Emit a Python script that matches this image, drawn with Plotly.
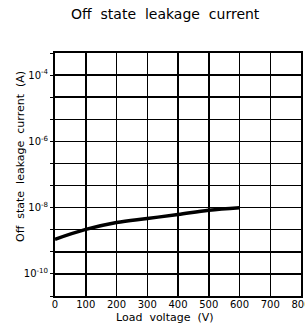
import plotly.graph_objects as go

# Data
load_voltage = [0, 100, 200, 300, 400, 500, 600]
leakage_current = [1.11e-9, 2.2e-9, 3.56e-9, 4.7e-9, 6.2e-9, 8.4e-9, 1.0e-8]

x_ticks = [0, 100, 200, 300, 400, 500, 600, 700, 800]
y_grid_exponents = [-10 - 2/3 + k * 2/3 for k in range(12)]
y_label_exponents = [-4, -6, -8, -10]

y_tickvals = [10 ** e for e in y_grid_exponents]
y_ticktext = []
for e in y_grid_exponents:
    r = round(e)
    if abs(e - r) < 1e-6 and r in y_label_exponents:
        y_ticktext.append("10<sup>%d</sup>" % r)
    else:
        y_ticktext.append("")

FONT = "DejaVu Sans"
NB = "\u00a0"

W, H = 305, 326
ml, mr, mt, mb = 55, 4, 53, 30
pw, ph = W - ml - mr, H - mt - mb


def px_to_paper(px, py):
    return (px - ml) / pw, (H - mb - py) / ph


fig = go.Figure()
fig.add_trace(go.Scatter(
    x=load_voltage, y=leakage_current, mode="lines",
    line=dict(color="black", width=3.5, shape="spline"),
    showlegend=False, hoverinfo="skip",
))

ann_specs = [
    (NB.join(["Off", "", "state", "", "leakage", "", "current"]), 165, 14, 14, 0),
    (NB.join(["Load", "", "voltage", "", "(V)"]), 165, 317, 11, 0),
    (NB.join(["Off", "", "state", "", "leakage", "", "current", "", "(A)"]), 20, 157, 11, -90),
]
annotations = []
for text, px, py, size, ang in ann_specs:
    ax, ay = px_to_paper(px, py)
    annotations.append(dict(text=text, x=ax, y=ay, xref="paper", yref="paper",
                            xanchor="center", yanchor="middle", showarrow=False,
                            textangle=ang, font=dict(size=size, family=FONT)))

fig.update_layout(
    template="none",
    width=W, height=H,
    margin=dict(l=ml, r=mr, t=mt, b=mb),
    paper_bgcolor="white", plot_bgcolor="white",
    font=dict(family=FONT, color="black", size=11),
    xaxis=dict(
        range=[0, 800], tickvals=x_ticks, ticktext=[str(v) for v in x_ticks],
        showgrid=True, gridcolor="black", gridwidth=1.5,
        showline=True, linecolor="black", linewidth=2, mirror=True,
        ticks="", zeroline=False, ticklabeloverflow="allow", automargin=False,
        ticklabelstandoff=-2,
        tickfont=dict(size=10, family=FONT),
    ),
    yaxis=dict(
        type="log", range=[-10 - 2/3, -3 - 1/3],
        tickvals=y_tickvals, ticktext=y_ticktext,
        showgrid=True, gridcolor="black", gridwidth=1.5,
        showline=True, linecolor="black", linewidth=2, mirror=True,
        ticks="outside", ticklen=3, tickcolor="black", tickwidth=1,
        zeroline=False, automargin=False, tickfont=dict(size=10, family=FONT),
    ),
    annotations=annotations,
)

fig.write_html(
    "out.html",
    config={"displayModeBar": False, "staticPlot": True},
    post_script="document.body.style.margin='0';document.body.style.overflow='hidden';",
)
